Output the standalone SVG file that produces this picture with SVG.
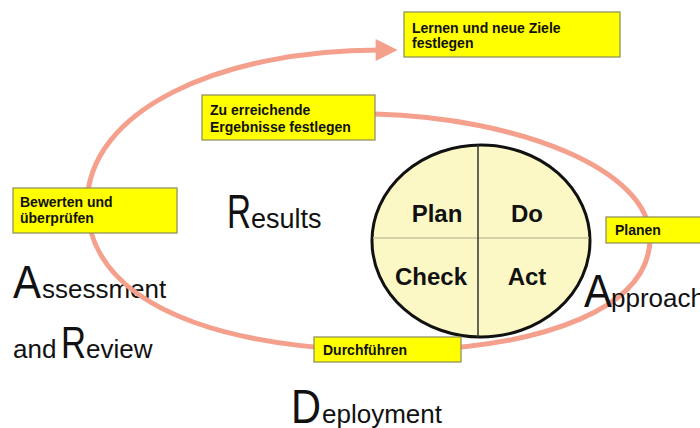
<svg xmlns="http://www.w3.org/2000/svg" width="700" height="428" viewBox="0 0 700 428">
  <defs>
    <style>
      .note rect { fill: #ffff00; stroke: #8a8a58; stroke-width: 1.2; }
      .note text { font-family: "Liberation Sans", Arial, sans-serif; font-weight: bold; font-size: 14px; fill: #111; }
      .big { font-family: "Liberation Sans", Arial, sans-serif; fill: #111; font-size: 26px; }
      .cap { font-size: 47px; }
      .pdca { font-family: "Liberation Sans", Arial, sans-serif; font-weight: bold; font-size: 24px; fill: #111; text-anchor: middle; }
      .loop { fill: none; stroke: #f4a08c; stroke-width: 5; stroke-linecap: round; }
    </style>
    <marker id="head" viewBox="0 0 10 10" refX="2" refY="5" markerWidth="4.6" markerHeight="4.4" orient="auto" markerUnits="strokeWidth">
      <path d="M0,0 L10,5 L0,10 z" fill="#f4a08c"/>
    </marker>
  </defs>

  <!-- big initial letters with small word tails -->
  <g id="assessment">
    <text class="big" y="298"><tspan class="cap" x="13" textLength="28" lengthAdjust="spacingAndGlyphs">A</tspan><tspan x="42">ssessment</tspan></text>
  </g>

  <!-- improvement cycle -->
  <g id="connectors">
    <path class="loop" marker-end="url(#head)"
      d="M375,114 C520,118 650,170 650,238 C650,310 540,345 420,350 C260,355 90,320 87,205 C87,110 220,50 380,50"/>
  </g>

  <g id="and-review">
    <text class="big" y="358"><tspan x="13">and</tspan><tspan class="cap" x="61" style="font-size:45px" textLength="25" lengthAdjust="spacingAndGlyphs">R</tspan><tspan x="86">eview</tspan></text>
  </g>

  <g id="results">
    <text class="big" y="228"><tspan class="cap" x="227" style="font-size:48px" textLength="24" lengthAdjust="spacingAndGlyphs">R</tspan><tspan x="251" style="font-size:27px">esults</tspan></text>
  </g>

  <g id="deployment">
    <text class="big" y="423"><tspan class="cap" x="291" style="font-size:48px" textLength="30" lengthAdjust="spacingAndGlyphs">D</tspan><tspan x="322">eployment</tspan></text>
  </g>

  <!-- PDCA wheel -->
  <g id="pdca">
    <ellipse cx="481" cy="241" rx="109" ry="96" fill="#fcf8c6" stroke="#111" stroke-width="3"/>
    <line x1="373" y1="238" x2="589" y2="238" stroke="#c9c49c" stroke-width="1.5"/>
    <line x1="478" y1="145" x2="478" y2="337" stroke="#333" stroke-width="1.5"/>
    <text class="pdca" x="437" y="222">Plan</text>
    <text class="pdca" x="527" y="222">Do</text>
    <text class="pdca" x="431" y="285">Check</text>
    <text class="pdca" x="527" y="285">Act</text>
  </g>

  <g id="approach">
    <text class="big" y="307"><tspan class="cap" x="584" textLength="28" lengthAdjust="spacingAndGlyphs">A</tspan><tspan x="611">pproach</tspan></text>
  </g>

  <!-- yellow notes -->
  <g id="note-lernen" class="note">
    <rect x="404" y="12" width="216" height="45"/>
    <text x="412" y="33">Lernen und neue Ziele</text>
    <text x="412" y="48">festlegen</text>
  </g>

  <g id="note-ergebnisse" class="note">
    <rect x="202" y="95" width="173" height="45"/>
    <text x="210" y="115">Zu erreichende</text>
    <text x="210" y="132">Ergebnisse festlegen</text>
  </g>

  <g id="note-bewerten" class="note">
    <rect x="13" y="188" width="164" height="45"/>
    <text x="20" y="207">Bewerten und</text>
    <text x="20" y="223">überprüfen</text>
  </g>

  <g id="note-planen" class="note">
    <rect x="606" y="217" width="100" height="26"/>
    <text x="615" y="235">Planen</text>
  </g>

  <g id="note-durchfuehren" class="note">
    <rect x="314" y="337" width="147" height="25"/>
    <text x="323" y="355">Durchführen</text>
  </g>
</svg>
